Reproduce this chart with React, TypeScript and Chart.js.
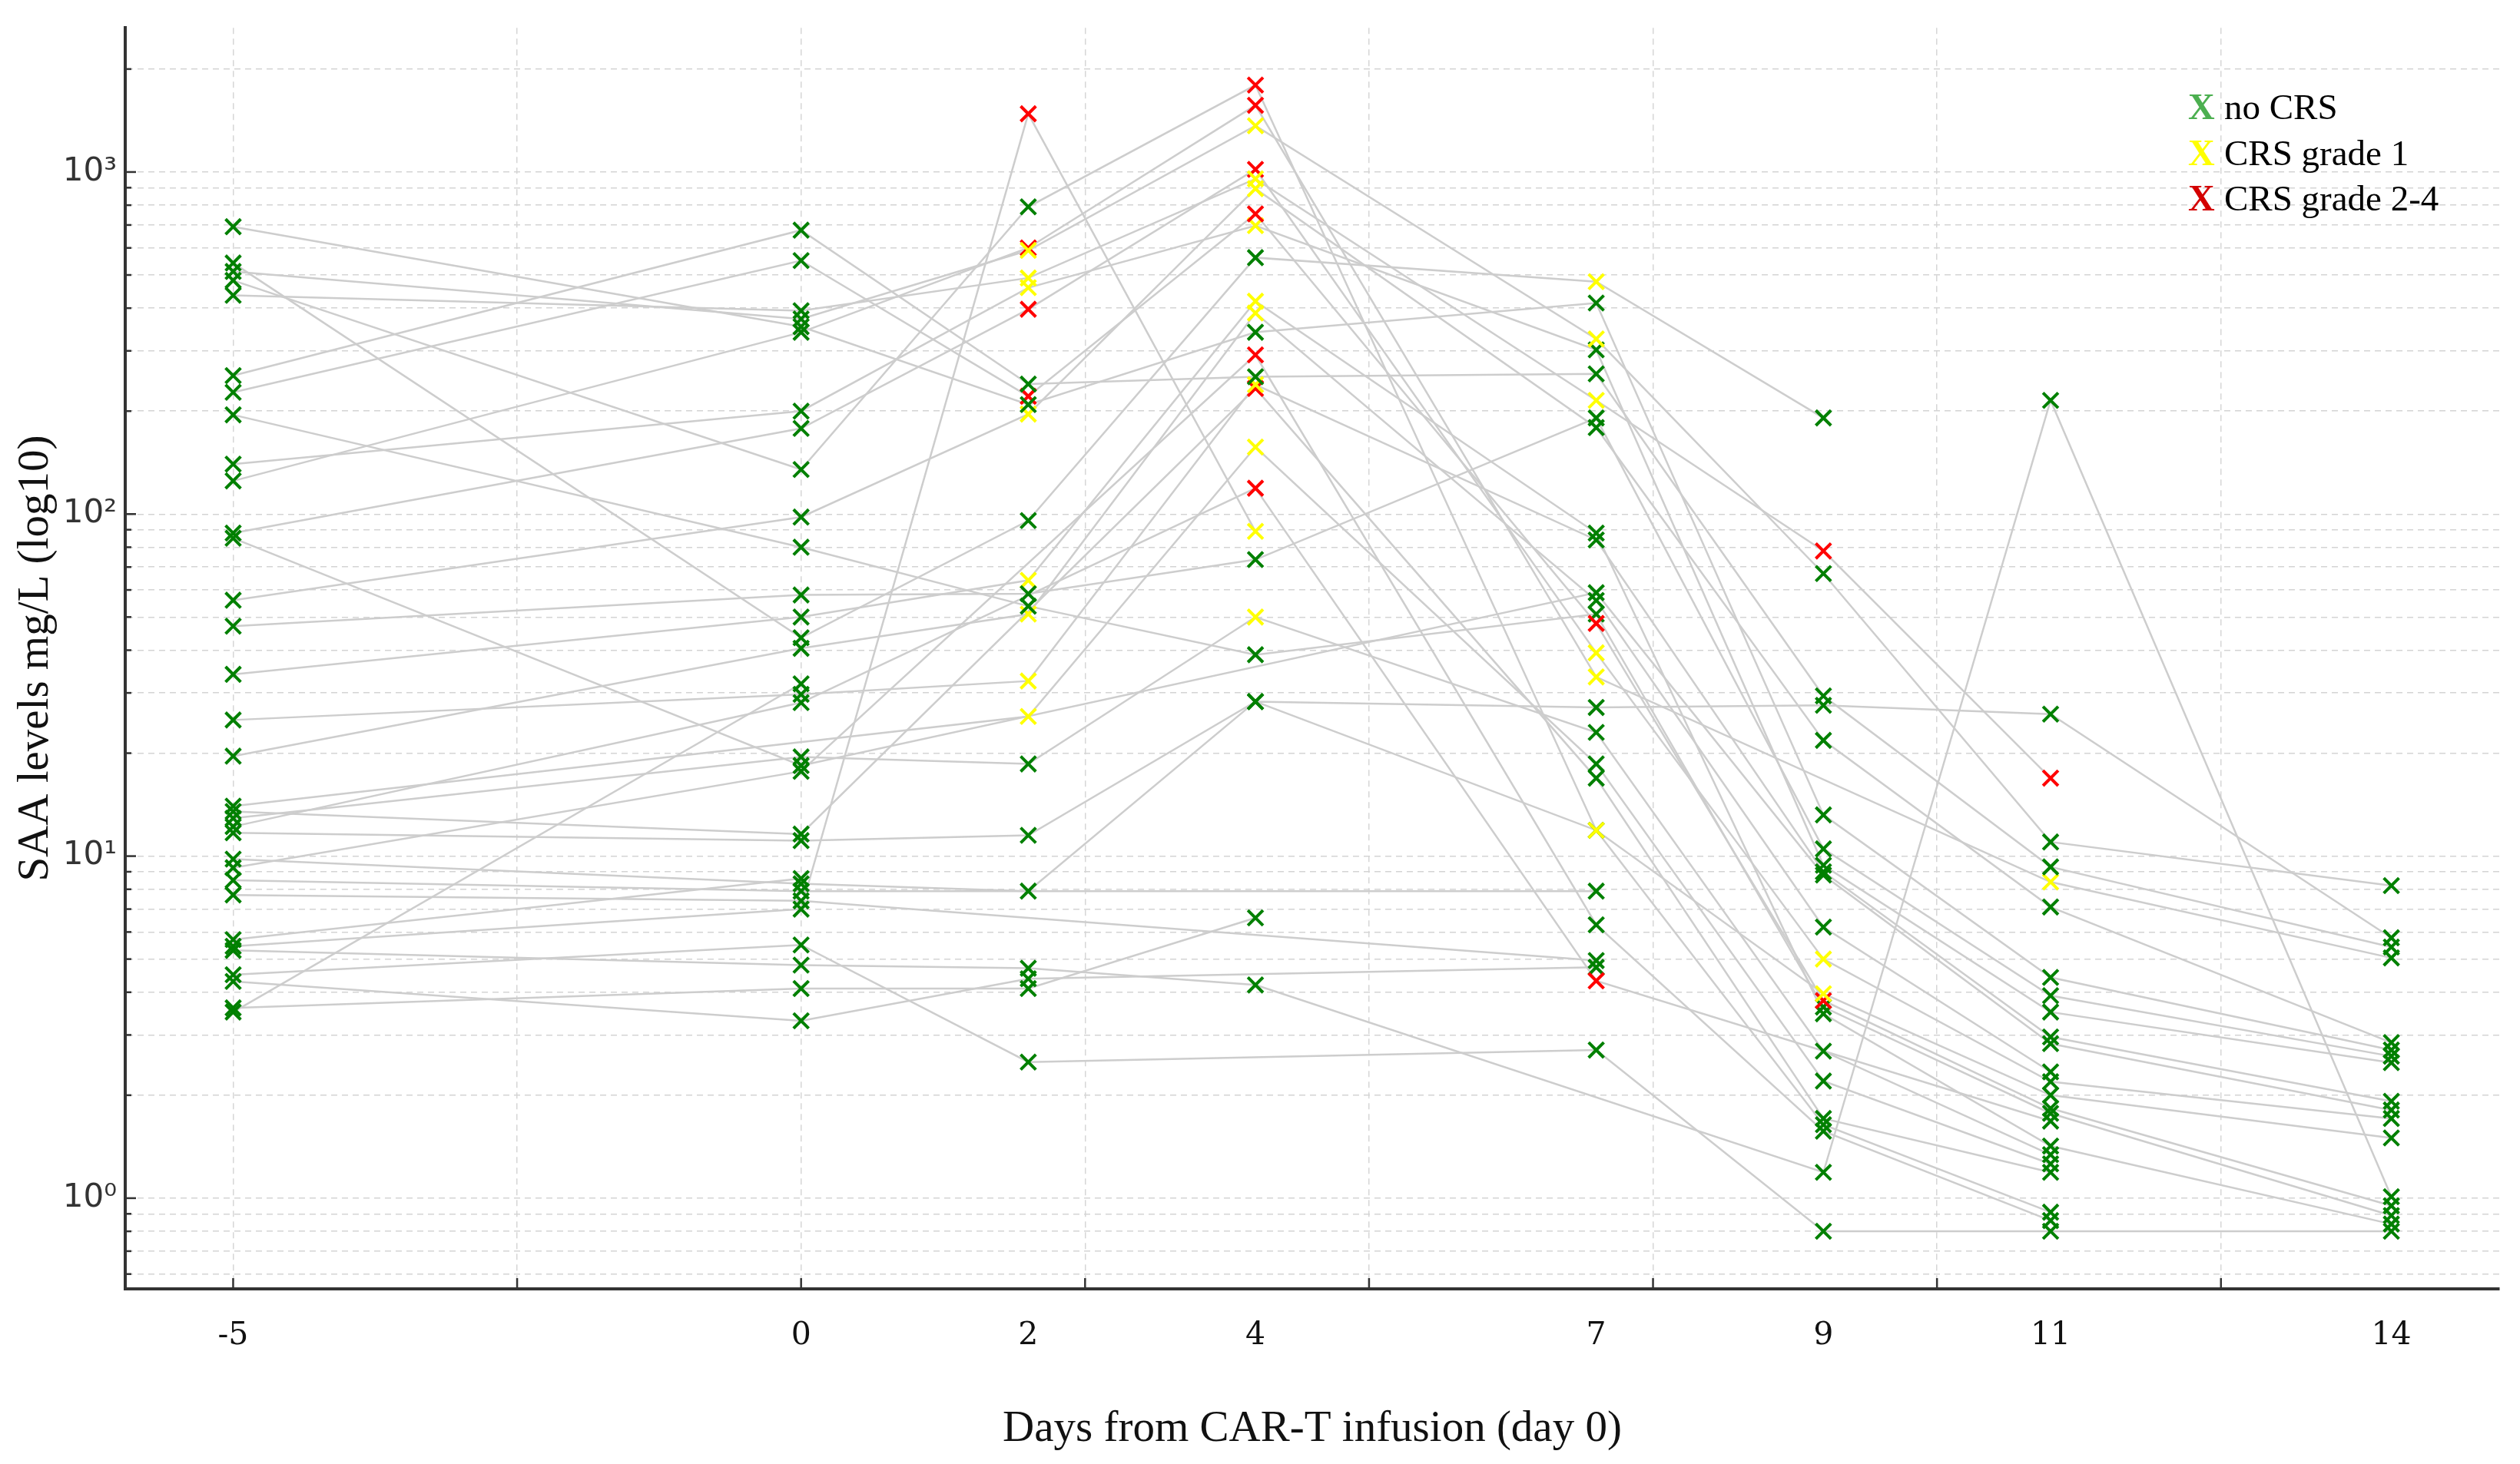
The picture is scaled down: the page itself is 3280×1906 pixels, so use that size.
import React, { useEffect, useRef } from "react";
import { Chart, registerables } from "chart.js";

Chart.register(...registerables);

// sampling days (x axis)
const days = [-5, 0, 2, 4, 7, 9, 11, 14];

// SAA mg/L per patient, one column per day above; null = no sample
const saa: (number | null)[][] = [
  [692, 353, 209, 340, 414, 13.2, 4.42, 2.71],
  [542, 43.5, 95.7, 562, 478, 191, null, null],
  [512, 372, 590, 1365, 325, 67, 11.0, 8.2],
  [482, 135, 791, 1795, 11.9, 3.96, 2.0, 1.5],
  [436, 393, 490, 955, 215, 78, 16.9, null],
  [254, 676, 240, 252, 257, 29.4, 9.3, 5.42],
  [227, 551, 221, 754, 47.9, 3.78, 1.83, 0.95],
  [195, 80, 53.8, 38.8, 51, 3.62, 1.77, 0.89],
  [140, 200, 459, 697, 302, 9.4, 3.5, 2.49],
  [125, 340, 600, 1567, 33.4, null, 8.4, 5.04],
  [88, 178, 397, 1018, 39.3, 5.0, 2.19, 1.71],
  [85, 18.4, null, null, 58.9, 8.8, 2.83, 1.81],
  [56, 98, 196, 894, 179, 21.8, 7.1, 2.85],
  [47, 58, 58.5, 73.6, 191, 10.5, 3.91, 2.6],
  [34, 50, 64, 419, 88, 3.46, 1.42, 0.84],
  [25, 29.7, 32.5, 239, 84, 9.0, 2.96, 1.92],
  [19.6, 40.5, 51, 387, 55.9, 6.2, 2.34, null],
  [14, null, 25.6, 157, 18.6, 2.2, 1.26, null],
  [13.5, 11.6, null, 233, 16.9, 1.71, 1.19, null],
  [12.9, 19.5, 18.6, 50, 23.0, 2.69, 1.34, null],
  [12.2, 28.1, null, 119, 4.32, null, 1.68, null],
  [11.7, 11.1, 11.5, 28.3, 27.2, 27.6, 26, 5.77],
  [9.8, 8.3, 7.9, 28.3, 11.9, 1.64, 0.91, null],
  [9.25, 17.7, null, 292, 6.3, 1.57, 0.86, null],
  [8.5, 7.9, null, null, 7.9, null, null, null],
  [7.7, 7.4, null, null, 4.95, null, null, null],
  [5.7, 8.6, null, null, null, null, null, null],
  [5.45, 7.0, 1480, 89, null, null, null, null],
  [5.3, 4.8, 4.7, 4.2, null, 1.19, 215, 1.01],
  [4.5, 5.5, 2.5, null, 2.71, 0.8, 0.8, 0.8],
  [4.3, 3.3, 4.38, null, 4.73, null, null, null],
  [3.6, 4.1, 4.1, 6.6, null, null, null, null],
  [3.5, 31.9, null, null, null, null, null, null],
];

// CRS grade per patient per day: 0 = none, 1 = grade 1, 2 = grade 2-4
const crs: string[] = [
  "00000000", "00001000", "00111000", "00021100", "00111220",
  "00000000", "00222200", "00000000", "00110000", "00221010",
  "00221100", "00000000", "00110000", "00000000", "00110000",
  "00110000", "00110000", "00110000", "00020000", "00010000",
  "00022000", "00000000", "00000000", "00020000", "00000000",
  "00000000", "00000000", "00210000", "00000000", "00000000",
  "00000000", "00000000", "00000000",
];

const gradeColors = ["#008000", "#ffff00", "#ff0000"];
const legendLabels = ["no CRS", "CRS grade 1", "CRS grade 2-4"];
const legendColors = ["#4caf50", "#ffff00", "#d40000"];
const decadeValues = [1, 10, 100, 1000];
const decadeLabels = ["10⁰", "10¹", "10²", "10³"];
const gridDays = [-5, -2.5, 0, 2.5, 5, 7.5, 10, 12.5];

const X_MIN = -5.95;
const X_MAX = 14.95;
const Y_MIN = 0.543;
const Y_MAX = 2640;

const isDecade = (v: number) => decadeValues.some((d) => Math.abs(d - v) < 1e-9);

const decorPlugin = {
  id: "decor",
  afterDraw(chart: any) {
    const { ctx, chartArea: a, scales } = chart;
    ctx.save();
    // inward tick marks like matplotlib
    ctx.strokeStyle = "#333";
    ctx.lineWidth = 2.5;
    scales.y.ticks.forEach((t: any) => {
      const y = scales.y.getPixelForValue(t.value);
      const len = isDecade(t.value) ? 14 : 8;
      ctx.beginPath();
      ctx.moveTo(a.left, y);
      ctx.lineTo(a.left + len, y);
      ctx.stroke();
    });
    gridDays.forEach((v) => {
      const x = scales.x.getPixelForValue(v);
      ctx.beginPath();
      ctx.moveTo(x, a.bottom);
      ctx.lineTo(x, a.bottom - 14);
      ctx.stroke();
    });
    // text legend
    ctx.textBaseline = "alphabetic";
    ctx.textAlign = "left";
    legendLabels.forEach((label, i) => {
      const y = a.top + 119 + i * 59.5;
      ctx.font = "bold 48px 'Liberation Serif'";
      ctx.fillStyle = legendColors[i];
      ctx.fillText("X", a.right - 405, y);
      ctx.font = "47px 'Liberation Serif'";
      ctx.fillStyle = "#000";
      ctx.fillText(label, a.right - 358, y);
    });
    ctx.restore();
  },
};

export default function App() {
  const chartRef = useRef<HTMLCanvasElement | null>(null);

  useEffect(() => {
    if (!chartRef.current) return;
    const ctx = chartRef.current.getContext("2d");
    if (!ctx) return;

    // grey connecting line per patient
    const lineSets = saa.map((row) => ({
      data: row.map((v, i) => ({ x: days[i], y: v })),
      borderColor: "#cdcdcd",
      borderWidth: 2.5,
      pointRadius: 0,
      spanGaps: true,
      order: 1,
    }));

    // x markers coloured by CRS grade
    const markerSets = saa.map((row, p) => ({
      data: row.map((v, i) => ({ x: days[i], y: v })),
      showLine: false,
      pointStyle: "crossRot",
      pointRadius: 14,
      pointBorderWidth: 4,
      pointBorderColor: row.map((_, i) => gradeColors[Number(crs[p][i])]),
      pointBackgroundColor: row.map((_, i) => gradeColors[Number(crs[p][i])]),
      order: 0,
    }));

    const xTicks = Array.from(new Set([...days, ...gridDays])).sort((a, b) => a - b);

    const chart = new Chart(ctx, {
      type: "line",
      data: { datasets: [...markerSets, ...lineSets] as any },
      options: {
        animation: false,
        responsive: false,
        devicePixelRatio: 1,
        layout: { padding: { top: 31, right: 27, left: 0, bottom: 0 } },
        plugins: { legend: { display: false }, tooltip: { enabled: false } },
        elements: { line: { tension: 0 } },
        scales: {
          x: {
            type: "linear",
            min: X_MIN,
            max: X_MAX,
            afterBuildTicks: (s: any) => {
              s.ticks = xTicks.map((v) => ({ value: v }));
            },
            afterFit: (s: any) => {
              s.height = 228;
            },
            ticks: {
              autoSkip: false,
              maxRotation: 0,
              padding: 37,
              color: "#111",
              font: { family: "'DejaVu Serif'", size: 41 },
              callback: (v: any) => (days.includes(Number(v)) ? String(v) : ""),
            },
            grid: {
              drawTicks: false,
              lineWidth: 1.5,
              color: (c: any) =>
                c.tick && gridDays.includes(c.tick.value) ? "#d6d6d6" : "rgba(0,0,0,0)",
            },
            border: { display: true, color: "#333", width: 4, dash: [8, 6] },
            title: {
              display: true,
              text: "Days from CAR-T infusion (day 0)",
              color: "#111",
              font: { family: "'Liberation Serif'", size: 57 },
              padding: { top: 0, bottom: 11 },
            },
          },
          y: {
            type: "logarithmic",
            min: Y_MIN,
            max: Y_MAX,
            afterBuildTicks: (s: any) => {
              const t: { value: number }[] = [];
              for (let e = -1; e <= 3; e++) {
                for (let m = 1; m <= 9; m++) {
                  const v = Number((m * Math.pow(10, e)).toPrecision(6));
                  if (v >= Y_MIN && v <= Y_MAX) t.push({ value: v });
                }
              }
              s.ticks = t;
            },
            afterFit: (s: any) => {
              s.width = 163;
            },
            ticks: {
              autoSkip: false,
              padding: 11,
              color: "#333",
              font: { family: "'DejaVu Sans'", size: 42 },
              callback: (v: any) => {
                const i = decadeValues.findIndex((d) => Math.abs(d - Number(v)) < 1e-9);
                return i >= 0 ? decadeLabels[i] : "";
              },
            },
            grid: {
              drawTicks: false,
              lineWidth: 1.5,
              color: "#d4d4d4",
            },
            border: { display: true, color: "#333", width: 4, dash: [8, 6] },
            title: {
              display: true,
              text: "SAA levels mg/L (log10)",
              color: "#111",
              font: { family: "'Liberation Serif'", size: 57 },
              padding: { top: 13, bottom: 0 },
            },
          },
        },
      },
      plugins: [decorPlugin],
    } as any);

    return () => {
      chart.destroy();
    };
  }, []);

  return (
    <div style={{ position: "absolute", left: 0, top: 0, width: 3280, height: 1906, background: "#fff" }}>
      <canvas ref={chartRef} width={3280} height={1906} />
    </div>
  );
}
